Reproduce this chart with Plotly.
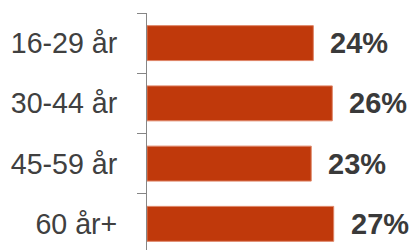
import plotly.graph_objects as go

categories = ["16-29 år", "30-44 år", "45-59 år", "60 år+"]
values = [23.7, 26.4, 23.4, 26.6]
labels = ["24%", "26%", "23%", "27%"]

BAR = "#C0390B"
TXT = "#3A3A3A"
FONT = "Liberation Sans, Arial, sans-serif"

fig = go.Figure()
fig.add_trace(go.Bar(
    x=values, y=categories, orientation="h",
    marker=dict(color=BAR, line=dict(color="#DE8466", width=1)),
    hoverinfo="skip",
))
for v, c, t in zip(values, categories, labels):
    fig.add_annotation(x=v, y=c, text="<b>%s</b>" % t, showarrow=False,
                       xanchor="left", yanchor="middle", xshift=15,
                       font=dict(family=FONT, size=29, color=TXT))

fig.update_layout(
    width=413, height=250,
    margin=dict(l=147, r=0, t=13, b=0),
    paper_bgcolor="white", plot_bgcolor="white",
    bargap=0.42, showlegend=False,
)
fig.update_xaxes(range=[0, 37.9], visible=False)
fig.update_yaxes(
    type="category", range=[3.434, -0.5], autorange=False,
    showline=True, linecolor="#868686", linewidth=1,
    ticks="outside", tickson="boundaries", ticklen=9, tickcolor="#868686",
    showgrid=False, zeroline=False,
    tickfont=dict(family=FONT, size=28.6, color="#404040"),
    ticklabelstandoff=23,
)
fig.write_html(
    "out.html",
    config={"displayModeBar": False},
    post_script="document.body.style.margin='0';document.body.style.overflow='hidden';",
)
